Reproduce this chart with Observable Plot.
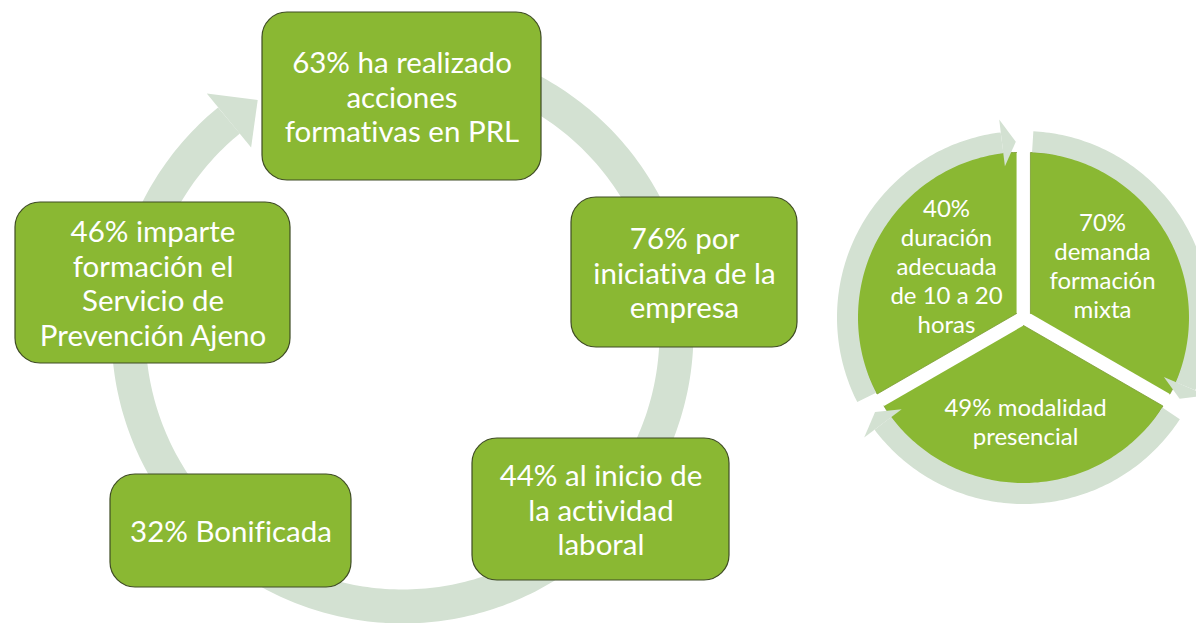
<!DOCTYPE html>
<html><head><meta charset="utf-8">
<script src="https://cdn.jsdelivr.net/npm/d3@7"></script>
<script src="https://cdn.jsdelivr.net/npm/@observablehq/plot@0.6"></script>
<style>html,body{margin:0;padding:0;background:#fff;} #chart{width:1196px;height:623px;overflow:hidden;} svg text{font-variant-ligatures:none;}</style>
</head><body><div id="chart"></div>
<script>
// ---------- data ----------
const cyclePct = [63, 76, 44, 32, 46];
const cycleText = [
  " ha realizado\nacciones\nformativas en PRL",
  " por\niniciativa de la\nempresa",
  " al inicio de\nla actividad\nlaboral",
  " Bonificada",
  " imparte\nformación el\nServicio de\nPrevención Ajeno"
];
const piePct = [70, 49, 40];
const pieText = [
  "\ndemanda\nformación\nmixta",
  " modalidad\npresencial",
  "\nduración\nadecuada\nde 10 a 20\nhoras"
];

// ---------- layout (positions & styles) ----------
const W = 1196, H = 623;
const boxLayout = [
  {x1: 262, x2: 541, y1: 12,  y2: 180},
  {x1: 571, x2: 797, y1: 197, y2: 347},
  {x1: 472, x2: 729, y1: 438, y2: 580},
  {x1: 110, x2: 351, y1: 474, y2: 587},
  {x1: 15,  x2: 290, y1: 202, y2: 363}
];
const cycleRing = {cx: 402, cy: 332, r: 274, w: 34, start: 0, end: 320.7, headLen: 7.4, headHalf: 35};
const pieGeom = {cx: 1023, cy: 317, r: 161, offset: 8};
const pieRing = {r: 176, w: 21, gapStart: 3, baseBack: 7, tipBack: 2.5, headHalf: 23.5};
const pieSectors = [{a0: 0, a1: 120}, {a0: 120, a1: 240}, {a0: 240, a1: 360}];
const pieTextPos = [{x: 1102, y: 265}, {x: 1025, y: 421}, {x: 946, y: 265}];
const GREEN = "#8ab833", RING = "#d3e1d2", BORDER = "#3f4c24";
const FONT = "Lato, 'Open Sans', sans-serif";

// ---------- geometry helpers ----------
const rad = d => d * Math.PI / 180;
const pt = (cx, cy, r, deg) => ({x: cx + r * Math.sin(rad(deg)), y: cy - r * Math.cos(rad(deg))});
function arc(cx, cy, r, a0, a1, id, step = 1) {
  const out = [];
  const n = Math.max(2, Math.ceil(Math.abs(a1 - a0) / step));
  for (let i = 0; i <= n; i++) out.push({...pt(cx, cy, r, a0 + (a1 - a0) * i / n), id});
  return out;
}

// left cycle ring + arrowhead
const leftRing = arc(cycleRing.cx, cycleRing.cy, cycleRing.r, cycleRing.start, cycleRing.end, "ring");
const e = cycleRing.end;
const leftHead = [
  {...pt(cycleRing.cx, cycleRing.cy, cycleRing.r + cycleRing.headHalf, e), id: "h"},
  {...pt(cycleRing.cx, cycleRing.cy, cycleRing.r, e + cycleRing.headLen), id: "h"},
  {...pt(cycleRing.cx, cycleRing.cy, cycleRing.r - cycleRing.headHalf, e), id: "h"}
];

// boxes
const boxes = boxLayout.map((b, i) => ({
  ...b, cx: (b.x1 + b.x2) / 2, cy: (b.y1 + b.y2) / 2,
  label: cyclePct[i] + "%" + cycleText[i]
}));

// pie sectors
const sectorPts = [];
pieSectors.forEach((s, i) => {
  const c = pt(pieGeom.cx, pieGeom.cy, pieGeom.offset, (s.a0 + s.a1) / 2);
  sectorPts.push({x: c.x, y: c.y, id: "s" + i});
  arc(c.x, c.y, pieGeom.r, s.a0, s.a1, "s" + i).forEach(p => sectorPts.push(p));
});
const pieLabels = piePct.map((p, i) => ({...pieTextPos[i], label: p + "%" + pieText[i]}));

// pie ring arcs and arrowheads
const ringPts = [], headPts = [];
pieSectors.forEach((s, i) => {
  const base = s.a1 - pieRing.baseBack;
  arc(pieGeom.cx, pieGeom.cy, pieRing.r, s.a0 + pieRing.gapStart, base, "r" + i).forEach(p => ringPts.push(p));
  headPts.push({...pt(pieGeom.cx, pieGeom.cy, pieRing.r + pieRing.headHalf, base), id: "a" + i});
  headPts.push({...pt(pieGeom.cx, pieGeom.cy, pieRing.r, s.a1 - pieRing.tipBack), id: "a" + i});
  headPts.push({...pt(pieGeom.cx, pieGeom.cy, pieRing.r - pieRing.headHalf, base), id: "a" + i});
});

const chart = Plot.plot({
  width: W, height: H,
  margin: 0,
  x: {domain: [0, W], range: [0, W], axis: null},
  y: {domain: [0, H], range: [0, H], axis: null},
  style: {background: "#ffffff", fontFamily: FONT},
  marks: [
    Plot.line(leftRing, {x: "x", y: "y", z: "id", stroke: RING, strokeWidth: cycleRing.w, strokeLinecap: "butt", curve: "linear"}),
    Plot.line(leftHead, {x: "x", y: "y", z: "id", fill: RING, stroke: "none", curve: "linear"}),
    Plot.rect(boxes, {x1: "x1", x2: "x2", y1: "y1", y2: "y2", rx: 25, fill: GREEN, stroke: BORDER, strokeWidth: 1.2}),
    Plot.text(boxes, {x: "cx", y: "cy", text: "label", fill: "white", fontSize: 29.5, lineHeight: 1.17, fontFamily: FONT, textAnchor: "middle"}),
    Plot.line(sectorPts, {x: "x", y: "y", z: "id", fill: GREEN, stroke: "#7a9c30", strokeWidth: 0.8, curve: "linear"}),
    Plot.line(ringPts, {x: "x", y: "y", z: "id", stroke: RING, strokeWidth: pieRing.w, strokeLinecap: "butt", curve: "linear"}),
    Plot.line(headPts, {x: "x", y: "y", z: "id", fill: RING, stroke: "none", curve: "linear"}),
    Plot.text(pieLabels, {x: "x", y: "y", text: "label", fill: "white", fontSize: 24, lineHeight: 1.21, fontFamily: FONT, textAnchor: "middle"})
  ]
});
document.getElementById("chart").appendChild(chart);
</script>
</body></html>
